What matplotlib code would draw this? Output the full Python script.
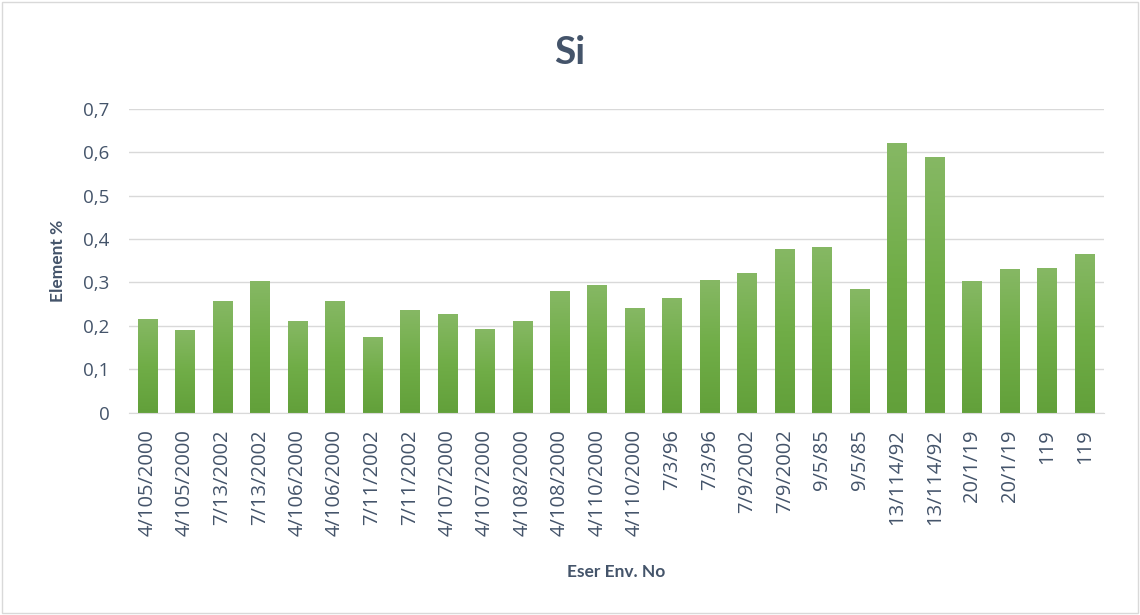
import matplotlib.pyplot as plt
import matplotlib.patches as mpatches
import numpy as np
from matplotlib.colors import LinearSegmentedColormap

labels = ["4/105/2000", "4/105/2000", "7/13/2002", "7/13/2002", "4/106/2000", "4/106/2000",
          "7/11/2002", "7/11/2002", "4/107/2000", "4/107/2000", "4/108/2000", "4/108/2000",
          "4/110/2000", "4/110/2000", "7/3/96", "7/3/96", "7/9/2002", "7/9/2002",
          "9/5/85", "9/5/85", "13/114/92", "13/114/92", "20/1/19", "20/1/19", "119", "119"]
values = [0.216, 0.191, 0.258, 0.304, 0.211, 0.258, 0.175, 0.237, 0.228, 0.193, 0.211, 0.281,
          0.294, 0.241, 0.264, 0.306, 0.322, 0.377, 0.382, 0.285, 0.622, 0.590, 0.304, 0.331,
          0.334, 0.366]
yticks = [0, 0.1, 0.2, 0.3, 0.4, 0.5, 0.6, 0.7]

text_col = "#44546A"
plt.rcParams['font.family'] = ['Open Sans', 'DejaVu Sans']

fig = plt.figure(figsize=(11.4, 6.15), dpi=100)
ax = fig.add_axes([0.113, 0.329, 0.855, 0.494])

x = np.arange(len(values))
bars = ax.bar(x, values, width=0.53, color="#70AD47", zorder=2)

# vertical gradient for each bar (lighter top, darker bottom)
cmap = LinearSegmentedColormap.from_list("g", ["#62A03A", "#70AD47", "#86B864"])
grad = np.linspace(0, 1, 256).reshape(-1, 1)
for b in bars:
    x0, w, h = b.get_x(), b.get_width(), b.get_height()
    im = ax.imshow(grad, cmap=cmap, origin="lower", aspect="auto",
                   extent=[x0, x0 + w, 0, h], zorder=3)
    im.set_clip_path(b)

ax.set_xlim(-0.5, len(values) - 0.5)
ax.set_ylim(0, 0.7)
ax.set_yticks(yticks)
ax.set_yticklabels([("%.1f" % t).replace(".", ",") if t else "0" for t in yticks])
ax.set_xticks(x)
ax.set_xticklabels(labels, rotation=90)
ax.tick_params(axis="both", length=0, labelsize=13.5, colors=text_col)
ax.tick_params(axis="x", pad=12, labelsize=14.5)
ax.tick_params(axis="y", pad=14)

ax.grid(axis="y", color="#D9D9D9", linewidth=1, zorder=0)
for s in ["top", "right", "left"]:
    ax.spines[s].set_visible(False)
ax.spines["bottom"].set_color("#D9D9D9")
ax.spines["bottom"].set_zorder(4)

ax.set_ylabel("Element %", fontsize=12.5, fontweight="bold", color=text_col, labelpad=12,
              family=['Lato', 'DejaVu Sans'])
ax.set_xlabel("Eser Env. No", fontsize=12.5, fontweight="bold", color=text_col, labelpad=20,
              family=['Lato', 'DejaVu Sans'])
fig.text(0.5, 0.915, "Si", ha="center", va="center", fontsize=28, fontweight="bold", color=text_col,
         family=['Lato', 'DejaVu Sans'])

fig.add_artist(mpatches.Rectangle((0.002, 0.003), 0.996, 0.994, transform=fig.transFigure,
                                  fill=False, edgecolor="#D9D9D9", linewidth=1))

fig.savefig("out.png", dpi=100)
